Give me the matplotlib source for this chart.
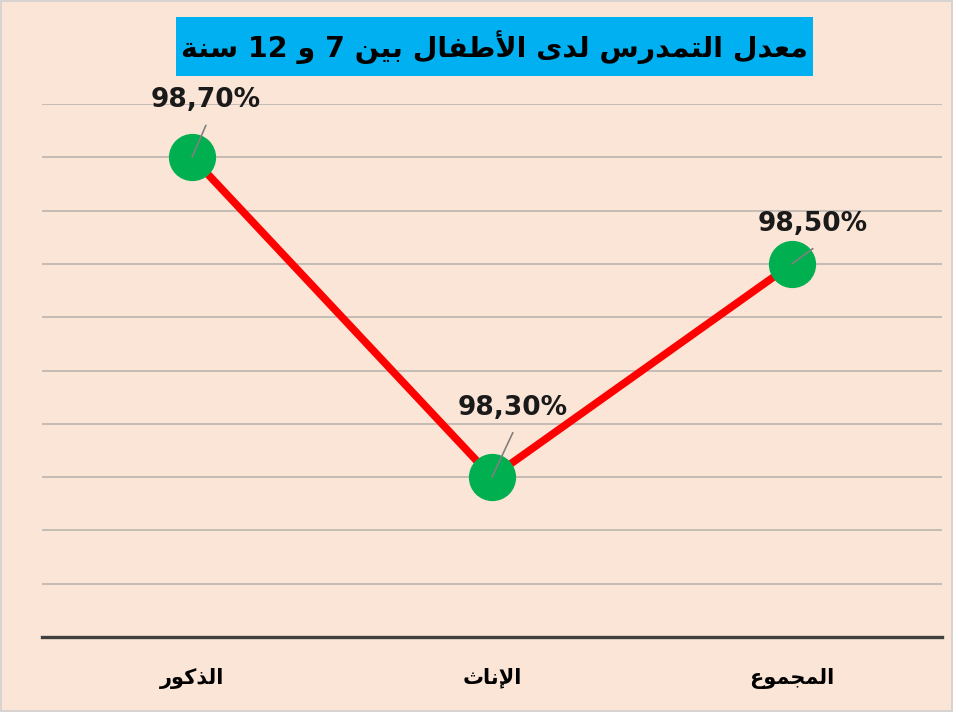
import re
import matplotlib
matplotlib.use("Agg")
import matplotlib.pyplot as plt
from matplotlib.patches import Rectangle

# data
categories = ["الذكور", "الإناث", "المجموع"]
values = [98.7, 98.1, 98.5]          # plotted heights
value_labels = ["98,70%", "98,30%", "98,50%"]
title = "معدل التمدرس لدى الأطفال بين 7 و 12 سنة"

# --- minimal arabic shaping (matplotlib has no shaping / bidi) ---
FORMS = {
    "ء": (0xFE80, 1), "آ": (0xFE81, 2), "أ": (0xFE83, 2), "ؤ": (0xFE85, 2),
    "إ": (0xFE87, 2), "ئ": (0xFE89, 4), "ا": (0xFE8D, 2), "ب": (0xFE8F, 4),
    "ة": (0xFE93, 2), "ت": (0xFE95, 4), "ث": (0xFE99, 4), "ج": (0xFE9D, 4),
    "ح": (0xFEA1, 4), "خ": (0xFEA5, 4), "د": (0xFEA9, 2), "ذ": (0xFEAB, 2),
    "ر": (0xFEAD, 2), "ز": (0xFEAF, 2), "س": (0xFEB1, 4), "ش": (0xFEB5, 4),
    "ص": (0xFEB9, 4), "ض": (0xFEBD, 4), "ط": (0xFEC1, 4), "ظ": (0xFEC5, 4),
    "ع": (0xFEC9, 4), "غ": (0xFECD, 4), "ف": (0xFED1, 4), "ق": (0xFED5, 4),
    "ك": (0xFED9, 4), "ل": (0xFEDD, 4), "م": (0xFEE1, 4), "ن": (0xFEE5, 4),
    "ه": (0xFEE9, 4), "و": (0xFEED, 2), "ى": (0xFEEF, 2), "ي": (0xFEF1, 4),
}
LAM_ALEF = {"ا": 0xFEFB, "أ": 0xFEF7, "إ": 0xFEF9, "آ": 0xFEF5}


def shape(text):
    tokens = []
    i = 0
    while i < len(text):
        c = text[i]
        if c == "ل" and i + 1 < len(text) and text[i + 1] in LAM_ALEF:
            tokens.append(("LA", LAM_ALEF[text[i + 1]]))
            i += 2
        else:
            tokens.append(("C", c))
            i += 1
    out = []
    for k, (kind, v) in enumerate(tokens):
        prev = tokens[k - 1] if k > 0 else None
        nxt = tokens[k + 1] if k + 1 < len(tokens) else None
        prev_joins = prev is not None and prev[0] == "C" and prev[1] in FORMS and FORMS[prev[1]][1] == 4
        if kind == "LA":
            out.append(chr(v + (1 if prev_joins else 0)))
            continue
        if v not in FORMS:
            out.append(v)
            continue
        base, n = FORMS[v]
        if n == 1:
            out.append(chr(base))
            continue
        next_joins = n == 4 and nxt is not None and (nxt[0] == "LA" or nxt[1] in FORMS)
        if prev_joins and next_joins:
            f = 3
        elif prev_joins:
            f = 1
        elif next_joins:
            f = 2
        else:
            f = 0
        out.append(chr(base + f))
    vis = "".join(out)[::-1]
    return re.sub(r"[0-9]+", lambda m: m.group(0)[::-1], vis)


bg = "#FBE5D6"
fig = plt.figure(figsize=(9.54, 7.12), dpi=100, facecolor=bg)
fig.patches.append(Rectangle((0.001, 0.001), 0.997, 0.997, transform=fig.transFigure,
                             fill=False, edgecolor="#D0D0D0", linewidth=1.2))

ax = fig.add_axes([42 / 954, 75 / 712, 900 / 954, 533 / 712])
ax.set_facecolor(bg)
x = list(range(len(categories)))
ax.plot(x, values, color="#FF0000", linewidth=5.5, zorder=3,
        marker="o", markersize=33, markerfacecolor="#00B050", markeredgecolor="#00B050")

ax.set_xlim(-0.5, 2.5)
ax.set_ylim(97.8, 98.8)
ax.set_yticks([97.8 + 0.1 * k for k in range(11)])
ax.yaxis.grid(True, color="#B5B0AC", linewidth=1.1)
ax.set_axisbelow(True)
ax.tick_params(length=0, labelleft=False)
ax.set_xticks(x)
ax.set_xticklabels([shape(c) for c in categories], fontsize=15, fontweight="bold",
                   family="DejaVu Sans")
ax.tick_params(axis="x", pad=22)
for s in ["top", "right", "left"]:
    ax.spines[s].set_visible(False)
ax.spines["bottom"].set_color("#404040")
ax.spines["bottom"].set_linewidth(2.4)

# data labels with leader lines (offsets in points)
text_off = [(10, 41), (15, 50), (15, 29)]
line_off = [(10, 23), (15, 32), (15, 11)]
for xi, v, lab, to, lo in zip(x, values, value_labels, text_off, line_off):
    ax.annotate("", xy=(xi, v), xytext=lo, textcoords="offset points",
                arrowprops=dict(arrowstyle="-", color="#808080", lw=1.2,
                                shrinkA=0, shrinkB=0), zorder=4)
    ax.annotate(lab, xy=(xi, v), xytext=to, textcoords="offset points",
                ha="center", va="center", fontsize=19, fontweight="bold",
                family="DejaVu Sans", color="#1a1a1a", zorder=5)

# title box
fig.patches.append(Rectangle((176 / 954, 1 - 76 / 712), 637 / 954, 59 / 712,
                             transform=fig.transFigure, facecolor="#00B0F0",
                             edgecolor="none"))
fig.text(494.5 / 954, 1 - 47 / 712, shape(title), ha="center", va="center",
         fontsize=20.5, fontweight="bold", family="DejaVu Sans", color="#000000")

fig.savefig("out.png", dpi=100, facecolor=bg)
